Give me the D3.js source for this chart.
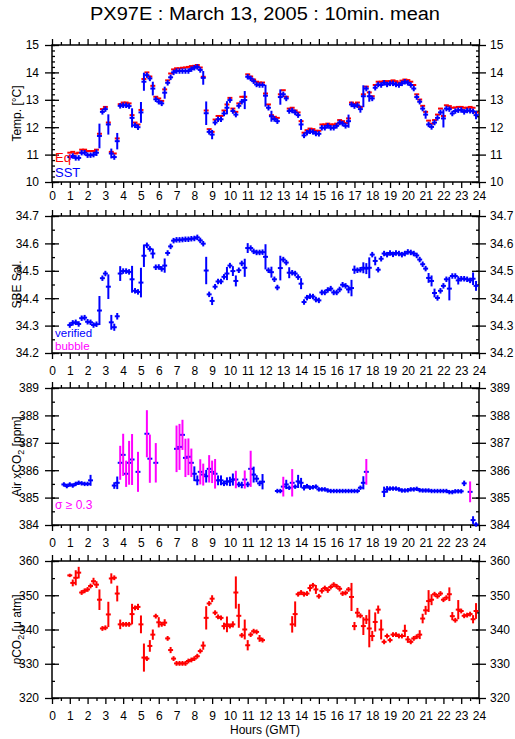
<!DOCTYPE html>
<html>
<head>
<meta charset="utf-8">
<script src="https://cdn.jsdelivr.net/npm/d3@7"></script>
<style>
  body { margin: 0; background: #fff; }
  text { font-family: "Liberation Sans", Arial, Helvetica, sans-serif; }
</style>
</head>
<body>
<svg id="chart" width="515" height="739"></svg>
<script>
// 10-min slots: slot k is centred on hour k/6
var hourLabels = [0,1,2,3,4,5,6,7,8,9,10,11,12,13,14,15,16,17,18,19,20,21,22,23,24];
var tempTicks = [10,11,12,13,14,15];
var salTicks = [34.2,34.3,34.4,34.5,34.6,34.7];
var xco2Ticks = [384,385,386,387,388,389];
var pco2Ticks = [320,330,340,350,360];

// Temperature (slots 6..143)
var tempStart = 6;
var sst = [10.91,10.95,10.88,10.88,11.07,11.07,10.98,10.98,11.00,11.07,
  11.68,12.56,12.66,12.10,11.04,10.91,11.49,12.78,12.80,12.80,
  12.77,12.34,12.07,12.00,12.54,13.66,13.90,13.78,13.41,13.02,
  12.93,12.87,13.26,13.62,13.82,14.00,14.05,14.05,14.05,14.05,
  14.05,14.12,14.17,14.20,14.09,13.80,12.51,11.83,11.73,12.17,
  12.29,12.29,12.50,12.71,12.99,12.59,12.46,12.78,12.93,12.99,
  13.84,13.78,13.68,13.56,13.54,13.54,13.15,12.71,12.40,12.30,
  12.22,13.10,13.20,13.05,12.59,12.61,12.54,12.44,12.10,11.70,
  11.80,11.85,11.83,11.77,11.76,11.98,11.98,12.05,11.98,11.98,
  12.05,12.17,12.13,12.05,12.22,12.83,12.77,12.80,12.66,13.13,
  13.41,13.13,13.05,13.44,13.56,13.54,13.62,13.56,13.60,13.60,
  13.56,13.54,13.60,13.66,13.62,13.54,13.41,13.10,12.93,12.68,
  12.46,12.10,12.01,12.17,12.34,12.54,12.32,12.68,12.66,12.50,
  12.59,12.62,12.63,12.56,12.61,12.60,12.58,12.44];
var sstErr = [.1,.1,.1,.1,.1,.1,.1,.1,.1,.12,
  .45,.1,.1,.37,.18,.1,.3,.1,.1,.1,
  .1,.35,.1,.1,.38,.33,.1,.1,.25,.1,
  .1,.1,.22,.1,.1,.1,.1,.1,.1,.1,
  .1,.1,.1,.1,.1,.25,.43,.1,.17,.1,
  .1,.1,.1,.24,.1,.1,.1,.1,.1,.33,
  .1,.1,.1,.1,.1,.1,.4,.1,.2,.1,
  .1,.28,.1,.1,.1,.1,.1,.1,.2,.1,
  .1,.1,.1,.1,.1,.1,.1,.1,.1,.1,
  .1,.1,.1,.1,.24,.1,.1,.1,.13,.4,
  .1,.2,.1,.1,.1,.1,.1,.1,.1,.1,
  .1,.1,.1,.1,.1,.1,.1,.1,.1,.1,
  .15,.1,.1,.1,.1,.1,.33,.1,.1,.1,
  .1,.1,.1,.1,.1,.1,.1,.15];
var eq = [11.07,11.10,11.04,11.07,11.18,11.18,11.13,11.13,11.13,11.18,
  11.76,12.66,12.74,12.17,11.10,11.04,11.59,12.84,12.90,12.90,
  12.87,12.44,12.17,12.10,12.63,13.76,14.00,13.85,13.51,13.11,
  13.05,12.96,13.38,13.71,13.96,14.11,14.15,14.15,14.17,14.18,
  14.20,14.23,14.24,14.27,14.18,13.84,12.61,11.93,11.83,12.28,
  12.41,12.41,12.61,12.83,13.07,12.68,12.56,12.87,13.11,13.11,
  13.93,13.85,13.74,13.66,13.63,13.63,13.23,12.83,12.44,12.38,
  12.34,13.20,13.35,13.11,12.68,12.71,12.61,12.54,12.22,11.80,
  11.89,11.95,11.93,11.87,11.87,12.10,12.10,12.13,12.10,12.10,
  12.13,12.26,12.22,12.15,12.32,12.90,12.85,12.90,12.74,13.20,
  13.48,13.27,13.13,13.54,13.66,13.66,13.68,13.68,13.68,13.71,
  13.68,13.63,13.70,13.74,13.72,13.66,13.54,13.20,13.01,12.78,
  12.56,12.24,12.13,12.26,12.46,12.68,12.41,12.80,12.77,12.71,
  12.72,12.74,12.74,12.71,12.71,12.74,12.71,12.54];

// SBE salinity (slots 6..143)
var salStart = 6;
var sal = [34.302,34.310,34.312,34.306,34.327,34.329,34.314,34.312,34.302,34.305,
  34.355,34.473,34.490,34.442,34.312,34.294,34.334,34.490,34.499,34.499,
  34.496,34.469,34.427,34.423,34.457,34.555,34.593,34.580,34.563,34.513,
  34.514,34.507,34.519,34.565,34.589,34.610,34.613,34.613,34.614,34.615,
  34.615,34.617,34.618,34.622,34.611,34.599,34.501,34.414,34.390,34.442,
  34.461,34.461,34.478,34.490,34.519,34.499,34.463,34.502,34.527,34.511,
  34.583,34.583,34.571,34.567,34.567,34.568,34.551,34.502,34.495,34.469,
  34.439,34.510,34.541,34.530,34.493,34.493,34.490,34.477,34.453,34.386,
  34.402,34.407,34.406,34.395,34.392,34.421,34.421,34.430,34.435,34.421,
  34.421,34.432,34.449,34.445,34.432,34.437,34.504,34.502,34.504,34.511,
  34.508,34.511,34.559,34.536,34.504,34.544,34.563,34.559,34.565,34.560,
  34.565,34.563,34.559,34.563,34.569,34.567,34.563,34.556,34.541,34.524,
  34.508,34.474,34.463,34.419,34.401,34.427,34.445,34.469,34.435,34.481,
  34.481,34.465,34.471,34.471,34.469,34.465,34.471,34.445];
var salErr = [.01,.01,.01,.01,.01,.01,.01,.01,.01,.01,
  .053,.01,.01,.045,.027,.013,.012,.027,.01,.01,
  .01,.049,.01,.01,.054,.041,.01,.01,.018,.01,
  .01,.01,.026,.01,.01,.01,.01,.01,.01,.01,
  .01,.01,.01,.01,.01,.01,.05,.01,.015,.01,
  .01,.01,.01,.024,.01,.018,.02,.01,.01,.033,
  .018,.01,.01,.01,.01,.01,.046,.01,.02,.01,
  .01,.045,.01,.01,.02,.01,.01,.01,.02,.01,
  .01,.01,.01,.01,.01,.01,.01,.01,.01,.01,
  .01,.01,.01,.01,.014,.03,.015,.01,.01,.02,
  .02,.038,.01,.016,.01,.01,.01,.01,.01,.01,
  .01,.01,.01,.01,.01,.01,.01,.01,.01,.01,
  .01,.018,.02,.016,.01,.01,.01,.01,.043,.01,
  .01,.015,.01,.01,.01,.01,.023,.018];

// Air xCO2 (slots 4..143)
var xco2Start = 4;
var xco2 = [385.48,385.42,385.48,385.44,385.50,385.54,385.52,385.50,385.50,385.63,
  null,null,null,null,null,null,null,
  385.44,385.54,386.27,386.56,385.87,386.27,386.39,null,385.94,null,null,
  387.33,386.42,null,386.27,
  null,null,null,null,null,null,
  386.78,386.85,387.29,386.45,386.49,386.27,385.87,385.63,385.94,385.84,
  385.78,386.05,385.94,385.87,385.63,385.63,385.52,385.59,385.59,385.66,
  385.66,385.48,385.46,385.66,385.48,386.05,385.84,385.69,385.52,385.58,
  null,null,null,null,
  385.24,385.24,385.40,385.48,385.36,385.54,385.40,385.59,385.54,385.36,
  385.42,385.36,385.38,385.40,385.30,385.30,385.30,385.26,385.24,385.24,
  385.24,385.24,385.24,385.24,385.24,385.24,385.24,385.24,385.36,385.54,
  385.94,
  null,null,null,null,null,
  385.21,385.30,385.33,385.33,385.33,385.30,385.26,385.26,385.27,385.30,
  385.30,385.32,385.27,385.26,385.26,385.26,385.24,385.24,385.24,385.24,
  385.24,385.24,385.20,385.20,385.23,385.23,385.23,
  385.52,null,385.21,384.18,384.02];
var xco2Err = [.08,.08,.08,.08,.08,.08,.08,.08,.08,.2,
  null,null,null,null,null,null,null,
  .12,.23,.62,.77,.48,.8,.93,null,.73,null,null,
  .86,.88,null,.72,
  null,null,null,null,null,null,
  .85,.84,.55,.7,.67,.52,.27,.18,.46,.4,
  .23,.5,.41,.54,.18,.18,.1,.15,.17,.22,
  .32,.1,.12,.33,.1,.66,.29,.13,.1,.28,
  null,null,null,null,
  .08,.08,.36,.17,.08,.5,.08,.24,.18,.1,
  .08,.08,.08,.08,.08,.08,.08,.08,.08,.08,
  .08,.08,.08,.08,.08,.08,.08,.08,.08,.24,
  .47,
  null,null,null,null,null,
  .19,.12,.08,.08,.08,.08,.08,.08,.08,.08,
  .08,.08,.08,.08,.08,.08,.08,.08,.08,.08,
  .08,.08,.08,.08,.08,.08,.08,
  .1,null,.38,.14,.08];

// pCO2 (slots 6..143)
var pco2Start = 6;
var pco2 = [355.8,353.6,355.1,356.6,350.8,351.3,351.7,352.7,354.1,353.1,
  348.7,340.3,340.5,344.4,354.9,355.1,350.5,341.5,341.5,341.5,
  341.5,344.5,346.3,346.6,341.5,331.8,331.5,335.2,338.5,343.9,
  342.1,341.5,342.0,337.4,334.0,331.5,330.1,330.1,330.1,330.1,
  330.8,331.1,331.5,332.2,333.7,335.3,343.4,347.6,349.0,344.9,
  343.7,343.4,341.0,341.5,341.0,341.5,350.8,344.0,338.3,340.0,
  335.4,338.5,339.5,339.3,337.4,336.9,
  null,null,null,null,null,null,null,null,null,
  341.5,344.5,350.3,350.8,350.3,350.5,352.1,352.9,351.7,349.7,
  351.3,352.1,351.5,352.4,353.1,352.6,351.9,350.5,350.7,351.7,
  349.5,341.0,344.9,344.0,341.0,342.9,340.3,338.1,342.2,345.8,
  340.0,336.4,338.1,336.9,338.5,338.5,338.1,338.1,339.6,337.1,
  336.4,337.4,337.9,338.5,343.2,345.6,348.3,348.7,350.3,349.7,
  350.5,348.7,349.3,350.3,343.9,342.7,345.8,345.4,344.0,344.2,
  344.5,343.0,345.4];
var pco2Err = [.5,1,2.2,1.7,.7,.7,.7,.7,1,1,
  3,.7,.7,3.7,1.5,.7,2.3,1.4,.7,.7,
  .7,3,.7,.9,2.6,4.1,.7,1.7,1.5,.7,
  1.5,.7,1,.7,.9,.7,.7,.7,.7,.7,
  .7,.7,.7,.7,.7,1.2,3.4,.7,1,.7,
  .7,.7,1,2.3,.7,.9,4.7,3.5,.7,2.9,
  1.5,.7,.7,.7,1,.7,
  null,null,null,null,null,null,null,null,null,
  2.4,3.7,.7,.7,.7,.7,1,.7,1.3,.7,
  .8,.7,.8,.7,.7,.7,.8,.7,.7,.7,
  4.1,1.2,1.4,.7,2.6,1.3,5.5,1.5,2.8,1.2,
  2.9,.7,.7,.7,.7,.7,.7,.7,1.8,1,
  .7,.7,.7,1.3,1.4,1.3,3.2,1.6,.7,.7,
  .7,.7,.7,2,1.2,.7,2.8,.7,.7,.7,
  .7,1.2,2.3];

var RED = '#ff0000', BLUE = '#0000ff', MAGENTA = '#ff00ff';

var svg = d3.select('#chart');
var left = 52, right = 479, panelH = 137;
var x = d3.scaleLinear().domain([0, 24]).range([left, right]);

svg.append('text')
    .attr('x', 265).attr('y', 20)
    .attr('text-anchor', 'middle')
    .attr('textLength', 350)
    .attr('lengthAdjust', 'spacingAndGlyphs')
    .style('font-size', '18px')
    .text('PX97E : March 13, 2005 : 10min. mean');

var panels = [
  {top: 45,  domain: [10, 15], ticks: tempTicks, minor: 0.2, fmt: d3.format('d'), label: 'Temp. [°C]', pad: 3},
  {top: 216, domain: [34.2, 34.7], ticks: salTicks, minor: 0.05, fmt: d3.format('.1f'), label: 'SBE Sal.', pad: 7},
  {top: 388, domain: [384, 389], ticks: xco2Ticks, minor: 0.5, fmt: d3.format('d'), label: 'xco2', pad: 7},
  {top: 561, domain: [320, 360], ticks: pco2Ticks, minor: 5, fmt: d3.format('d'), label: 'pco2', pad: 7}
];

function minorTicks(domain, step) {
  var out = [];
  var n = Math.round((domain[1] - domain[0]) / step);
  for (var i = 0; i <= n; i++) out.push(domain[0] + i * step);
  return out;
}

var halfHours = hourLabels.slice(0, -1).map(function(h) { return h + 0.5; });

panels.forEach(function(p) {
  var g = svg.append('g');
  var y = d3.scaleLinear().domain(p.domain).range([p.top + panelH, p.top]);
  p.y = y;
  p.g = g;
  var bottom = p.top + panelH;

  // y axes: labelled outer ticks, short inner minor ticks, crossing major ticks
  g.append('g').attr('transform', 'translate(' + left + ',0)')
    .call(d3.axisLeft(y).tickValues(p.ticks).tickSize(7).tickPadding(6).tickFormat(p.fmt));
  g.append('g').attr('transform', 'translate(' + left + ',0)')
    .call(d3.axisRight(y).tickValues(p.ticks).tickSize(7).tickFormat(''));
  g.append('g').attr('transform', 'translate(' + left + ',0)')
    .call(d3.axisRight(y).tickValues(minorTicks(p.domain, p.minor)).tickSize(3).tickFormat(''));

  g.append('g').attr('transform', 'translate(' + right + ',0)')
    .call(d3.axisRight(y).tickValues(p.ticks).tickSize(7).tickPadding(4).tickFormat(p.fmt));
  g.append('g').attr('transform', 'translate(' + right + ',0)')
    .call(d3.axisLeft(y).tickValues(p.ticks).tickSize(7).tickFormat(''));
  g.append('g').attr('transform', 'translate(' + right + ',0)')
    .call(d3.axisLeft(y).tickValues(minorTicks(p.domain, p.minor)).tickSize(3).tickFormat(''));

  // x axes
  g.append('g').attr('transform', 'translate(0,' + bottom + ')')
    .call(d3.axisBottom(x).tickValues(hourLabels).tickSize(6).tickPadding(p.pad).tickFormat(d3.format('d')));
  g.append('g').attr('transform', 'translate(0,' + bottom + ')')
    .call(d3.axisBottom(x).tickValues(halfHours).tickSize(3).tickFormat(''));
  g.append('g').attr('transform', 'translate(0,' + p.top + ')')
    .call(d3.axisTop(x).tickValues(hourLabels).tickSize(6).tickFormat(''));
  g.append('g').attr('transform', 'translate(0,' + p.top + ')')
    .call(d3.axisTop(x).tickValues(halfHours).tickSize(3).tickFormat(''));

  g.selectAll('.domain').remove();
  g.selectAll('.tick line').attr('stroke', '#000').attr('stroke-width', 1.3);
  g.selectAll('.tick text').style('font-size', '12px').style('font-family', '"Liberation Sans", Arial, sans-serif').attr('fill', '#000');

  g.append('rect')
    .attr('x', left).attr('y', p.top)
    .attr('width', right - left).attr('height', panelH)
    .attr('fill', 'none').attr('stroke', '#000').attr('stroke-width', 1.5);

  // y label
  var lab = g.append('text')
    .attr('transform', 'translate(21,' + (p.top + panelH / 2) + ') rotate(-90)')
    .attr('text-anchor', 'middle')
    .style('font-size', '12px');
  if (p.label === 'xco2') {
    lab.append('tspan').text('Air xCO');
    lab.append('tspan').attr('dy', 3).style('font-size', '9px').text('2');
    lab.append('tspan').attr('dy', -3).text(' [ppm]');
  } else if (p.label === 'pco2') {
    lab.append('tspan').style('font-style', 'italic').text('p');
    lab.append('tspan').text('CO');
    lab.append('tspan').attr('dy', 3).style('font-size', '9px').text('2');
    lab.append('tspan').attr('dy', -3).text(' [μ atm]');
  } else {
    lab.text(p.label);
  }
});

svg.append('text')
    .attr('x', 265).attr('y', 734)
    .attr('text-anchor', 'middle')
    .style('font-size', '12px')
    .text('Hours (GMT)');

// one mark per 10-min mean: a 10-min wide step plus a vertical sd bar
function drawSeries(p, start, vals, errs, color, errColor) {
  var pts = vals.map(function(v, i) {
    return {k: start + i, v: v, e: errs ? errs[i] : null};
  }).filter(function(d) { return d.v !== null; });
  var g = p.g.append('g');
  g.selectAll('line.h').data(pts).enter().append('line')
    .attr('x1', function(d) { return x((d.k - 0.5) / 6); })
    .attr('x2', function(d) { return x((d.k + 0.5) / 6); })
    .attr('y1', function(d) { return p.y(d.v); })
    .attr('y2', function(d) { return p.y(d.v); })
    .attr('stroke', color).attr('stroke-width', 2).attr('stroke-linecap', 'square');
  if (errs) {
    g.selectAll('line.v').data(pts).enter().append('line')
      .attr('x1', function(d) { return x(d.k / 6); })
      .attr('x2', function(d) { return x(d.k / 6); })
      .attr('y1', function(d) { return p.y(d.v - d.e); })
      .attr('y2', function(d) { return p.y(d.v + d.e); })
      .attr('stroke', function(d) { return errColor ? errColor(d) : color; })
      .attr('stroke-width', 2);
  }
}

drawSeries(panels[0], tempStart, eq, null, RED);
drawSeries(panels[0], tempStart, sst, sstErr, BLUE);
drawSeries(panels[1], salStart, sal, salErr, BLUE);
drawSeries(panels[2], xco2Start, xco2, xco2Err, BLUE, function(d) { return d.e >= 0.3 ? MAGENTA : BLUE; });
drawSeries(panels[3], pco2Start, pco2, pco2Err, RED);

// legends
function legend(p, dy, txt, color, size) {
  p.g.append('text').attr('x', 55).attr('y', p.top + dy)
    .attr('fill', color).style('font-size', size).text(txt);
}
legend(panels[0], 117, 'Eq', RED, '13px');
legend(panels[0], 132, 'SST', BLUE, '13px');
legend(panels[1], 120.5, 'verified', BLUE, '11.5px');
legend(panels[1], 133.5, 'bubble', MAGENTA, '11.5px');
legend(panels[2], 120.5, 'σ ≥ 0.3', MAGENTA, '12px');
</script>
</body>
</html>
